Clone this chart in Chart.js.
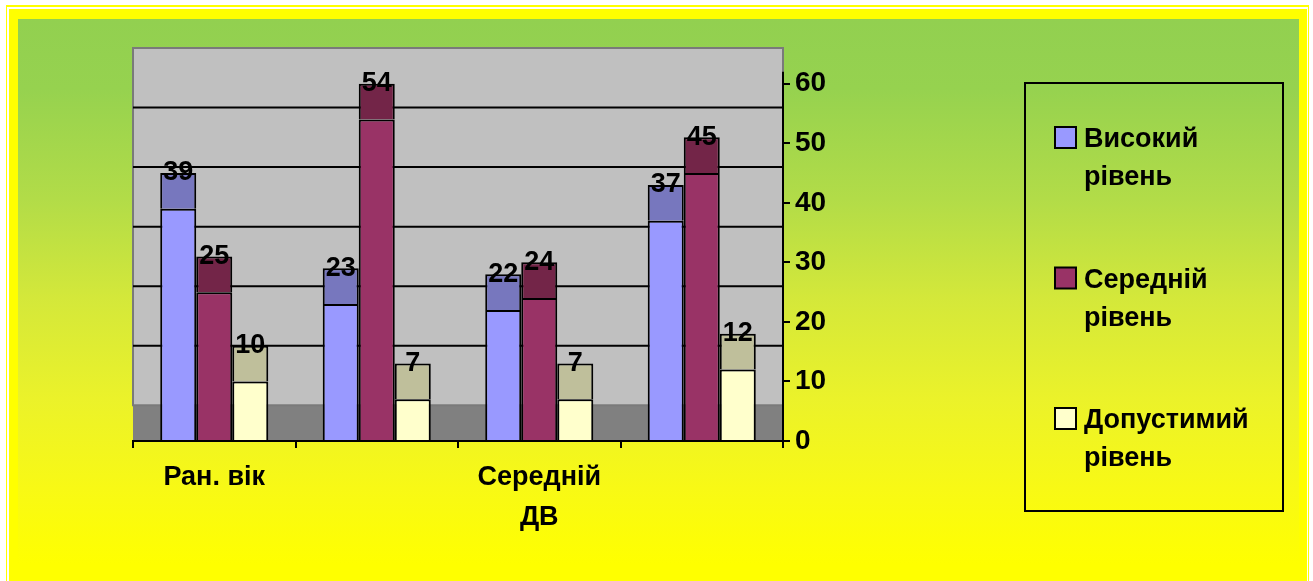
<!DOCTYPE html>
<html>
<head>
<meta charset="utf-8">
<script src="https://cdn.jsdelivr.net/npm/chart.js@4.4.1/dist/chart.umd.min.js"></script>
<style>
	html, body { margin: 0; padding: 0; background: #fff; }
	body { width: 1313px; height: 581px; position: relative; overflow: hidden; }
	#frame {
		position: absolute; left: 6px; top: 5px; width: 1303px; height: 640px;
		box-sizing: border-box; border: 1px solid #ffff00; border-top-width: 2px; background: #fff;
	}
	#slide {
		position: absolute; left: 9px; top: 9px; width: 1298px; height: 640px;
		box-sizing: border-box; border-style: solid; border-color: #ffff00;
		border-width: 10px 8px 0 9px;
		background: linear-gradient(to bottom,
			#92d050 0px, #96d24f 70px, #b2dc48 180px, #d4e83a 280px,
			#ebf22a 380px, #f8f915 470px, #ffff00 545px);
	}
	#wrap { position: absolute; left: 0; top: 0; width: 1313px; height: 581px; }
</style>
</head>
<body>
<div id="frame"></div>
<div id="slide"></div>
<div id="wrap"><canvas id="chart"></canvas></div>
<script>
// data
var categories = ["Ран. вік", "", ["Середній", "ДВ"], ""];
var seriesNames = [["Високий", "рівень"], ["Середній", "рівень"], ["Допустимий", "рівень"]];
var highLevel = [39, 23, 22, 37];
var middleLevel = [25, 54, 24, 45];
var allowedLevel = [10, 7, 7, 12];
var yTicks = [0, 10, 20, 30, 40, 50, 60];

var FONT = '"Liberation Sans", Arial, sans-serif';
var capDepth = 6;   // depth of the 3d top face, in axis units
var faceColors = ["#9999ff", "#993366", "#ffffcc"];
var topColors = ["#7777be", "#732548", "#bfbf9b"];

Chart.defaults.font.family = FONT;

function make_series(idx, values){
	var stack = "s" + idx;
	var common = {
		borderColor: "#000",
		borderWidth: 2,
		stack: stack,
		categoryPercentage: 0.665,
		barPercentage: 1.0
	};
	var face = Object.assign({}, common, {
		label: seriesNames[idx].join(" "),
		data: values,
		backgroundColor: faceColors[idx]
	});
	var top = Object.assign({}, common, {
		label: "",
		data: values.map(function(){ return capDepth; }),
		backgroundColor: topColors[idx],
		isCap: true,
		valueOf: values
	});
	return [face, top];
}

var datasets = [].concat(
	make_series(0, highLevel),
	make_series(1, middleLevel),
	make_series(2, allowedLevel)
);

// back wall, floor and the wall grid lines
var backWall = {
	id: "backWall",
	beforeDraw: function(chart){
		var a = chart.chartArea, y = chart.scales.y, ctx = chart.ctx;
		var floorTop = y.getPixelForValue(capDepth);
		var base = y.getPixelForValue(0);
		ctx.save();
		ctx.fillStyle = "#c0c0c0";
		ctx.fillRect(a.left, a.top, a.right - a.left, floorTop - a.top);
		ctx.fillStyle = "#808080";
		ctx.fillRect(a.left, floorTop, a.right - a.left, base - floorTop);
		ctx.strokeStyle = "#7a7a7a";
		ctx.lineWidth = 2;
		ctx.strokeRect(a.left, a.top, a.right - a.left, floorTop - a.top);
		ctx.strokeStyle = "#000";
		yTicks.forEach(function(v){
			if(v <= 0 || v + capDepth >= y.max) return;
			var py = y.getPixelForValue(v + capDepth);
			ctx.beginPath();
			ctx.moveTo(a.left, py);
			ctx.lineTo(a.right, py);
			ctx.stroke();
		});
		// value axis line
		ctx.beginPath();
		ctx.moveTo(a.right, base + 1);
		ctx.lineTo(a.right, y.getPixelForValue(62));
		ctx.stroke();
		ctx.restore();
	}
};

// value labels on top of every column
var capLabels = {
	id: "capLabels",
	afterDatasetsDraw: function(chart){
		var ctx = chart.ctx;
		ctx.save();
		ctx.font = "bold 27px " + FONT;
		ctx.fillStyle = "#000";
		ctx.textAlign = "center";
		ctx.textBaseline = "middle";
		chart.data.datasets.forEach(function(ds, i){
			if(!ds.isCap) return;
			chart.getDatasetMeta(i).data.forEach(function(bar, j){
				ctx.fillText(String(ds.valueOf[j]), bar.x, bar.y);
			});
		});
		ctx.restore();
	}
};

// boxed legend with two-line names
var boxLegend = {
	id: "boxLegend",
	afterDraw: function(chart){
		var ctx = chart.ctx;
		ctx.save();
		ctx.strokeStyle = "#000";
		ctx.lineWidth = 2;
		ctx.strokeRect(1025, 83, 258, 428);
		ctx.font = "bold 27px " + FONT;
		ctx.fillStyle = "#000";
		ctx.textAlign = "left";
		ctx.textBaseline = "alphabetic";
		var k = 0;
		chart.data.datasets.forEach(function(ds){
			if(ds.isCap) return;
			var base = 147 + k * 140.5;
			ctx.fillStyle = ds.backgroundColor;
			ctx.fillRect(1055, base - 20, 21, 21);
			ctx.strokeRect(1055, base - 20, 21, 21);
			ctx.fillStyle = "#000";
			seriesNames[k].forEach(function(line, n){
				ctx.fillText(line, 1084, base + n * 38);
			});
			k++;
		});
		ctx.restore();
	}
};

new Chart(document.getElementById("chart"), {
	type: "bar",
	data: { labels: categories, datasets: datasets },
	plugins: [backWall, capLabels, boxLegend],
	options: {
		responsive: true,
		maintainAspectRatio: false,
		animation: false,
		layout: { padding: { left: 133, top: 48, right: 470, bottom: 40 } },
		plugins: {
			legend: { display: false },
			tooltip: { enabled: false }
		},
		scales: {
			x: {
				stacked: true,
				offset: true,
				grid: { offset: true, drawOnChartArea: false, drawTicks: true, tickLength: 7, color: "#000", lineWidth: 2 },
				border: { display: true, color: "#000", width: 2 },
				ticks: {
					autoSkip: false, maxRotation: 0, padding: 10, color: "#000",
					font: { size: 27, weight: "bold", lineHeight: 1.48 }
				},
				afterFit: function(scale){ scale.height = 100; }
			},
			y: {
				stacked: true,
				position: "right",
				min: 0,
				max: 66,
				afterBuildTicks: function(scale){
					scale.ticks = yTicks.map(function(v){ return { value: v }; });
				},
				grid: { drawOnChartArea: false, drawTicks: true, tickLength: 7, color: "#000", lineWidth: 2 },
				border: { display: false },
				ticks: {
					padding: 5, color: "#000",
					font: { size: 28, weight: "bold" }
				},
				afterFit: function(scale){ scale.width = 60; }
			}
		}
	}
});
</script>
</body>
</html>
